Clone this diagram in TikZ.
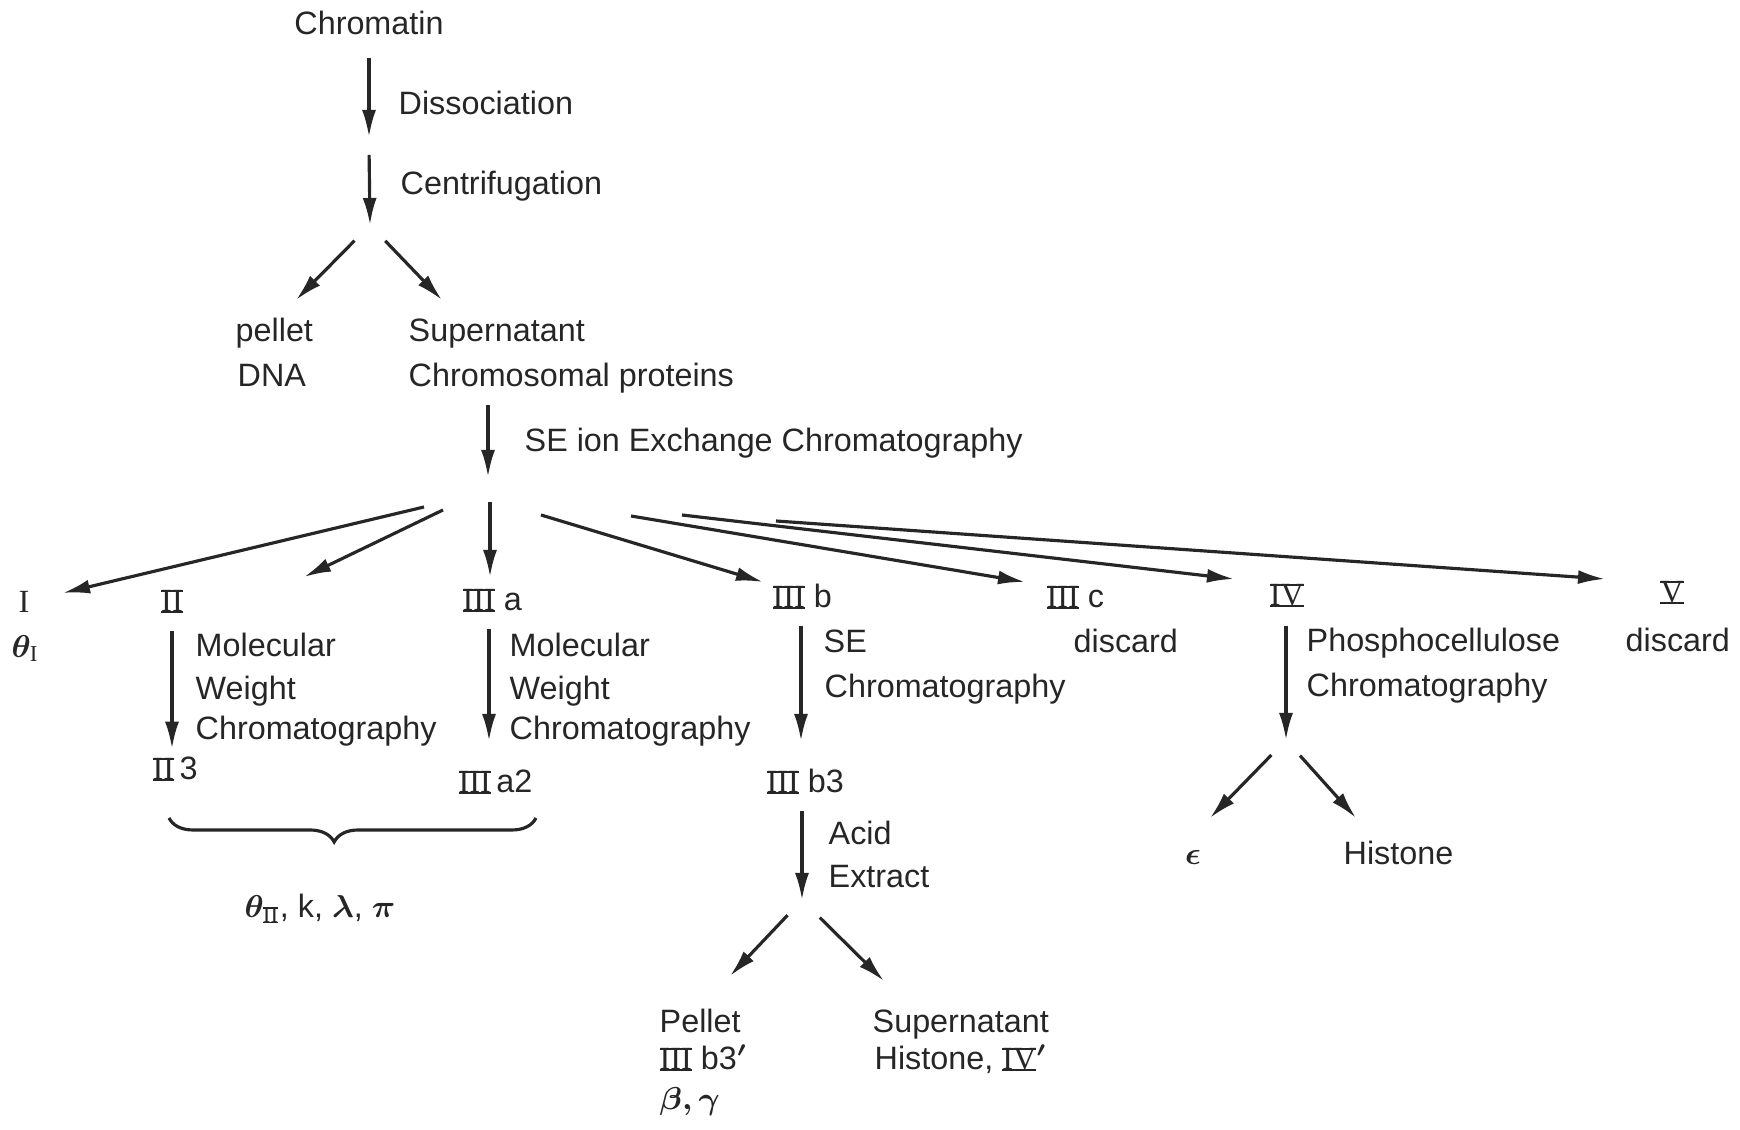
\documentclass[tikz,border=0pt]{standalone}
\usepackage{fontspec}
\setmainfont{Liberation Sans}
\newfontfamily\numfont{Liberation Serif}
\usetikzlibrary{arrows.meta,decorations.pathreplacing}

% barred roman numeral
\newcommand{\rnum}[1]{{\setbox0=\hbox{\numfont #1}%
  \rlap{\rule[-0.25pt]{\wd0}{0.55pt}}%
  \rlap{\rule[\dimexpr\ht0-0.3pt\relax]{\wd0}{0.55pt}}\box0}}
\newcommand{\subnum}[1]{\hbox{\fontsize{6.5}{7}\selectfont #1}}

\tikzset{
  arr/.style={draw=black!85, line width=0.9pt, -{Latex[length=2.7mm,width=1.4mm]}},
  lbl/.style={inner sep=0pt, anchor=base west, text=black!85},
  num/.style={inner sep=0pt, anchor=base, text=black!85},
}

\begin{document}
\begin{tikzpicture}[font=\fontsize{9.2}{11}\selectfont\boldmath]
\useasboundingbox (0,0) rectangle (17.4,-11.3);

% chromatin -> supernatant
\node[num] (chromatin) at (3.69,-0.35) {Chromatin};
\coordinate (j1) at (3.69,-1.46);
\coordinate (jT) at (3.70,-2.25);
\draw[arr, shorten <=2.2mm, shorten >=0.9mm] (chromatin.south) -- (j1);
\draw[arr, shorten <=0.9mm] (j1) -- (jT);
\node[lbl] (dissoc) at (3.98,-1.15) {Dissociation};
\node[lbl] (centri) at (4.00,-1.95) {Centrifugation};

\coordinate (hP) at (2.96,-3.00);
\coordinate (hS) at (4.42,-3.00);
\draw[arr, shorten <=2.2mm] (jT) -- (hP);
\draw[arr, shorten <=2.2mm] (jT) -- (hS);

\node[lbl] (pellet) at (2.35,-3.42) {pellet};
\node[lbl] (dna) at (2.37,-3.87) {DNA};
\node[lbl] (super) at (4.08,-3.42) {Supernatant};
\node[lbl] (chprot) at (4.08,-3.87) {Chromosomal proteins};

% SE ion exchange
\coordinate (jS) at (4.88,-4.77);
\draw[arr, shorten <=1.1mm] (chprot.south -| jS) -- (jS);
\node[lbl] (seiec) at (5.24,-4.52) {SE ion Exchange Chromatography};

% fractions
\coordinate (fI) at (4.24,-5.07);    \coordinate (hI) at (0.63,-5.93);
\coordinate (fII) at (4.43,-5.10);   \coordinate (hII) at (3.04,-5.77);
\coordinate (fIIIa) at (4.90,-5.02); \coordinate (hIIIa) at (4.90,-5.77);
\coordinate (fIIIb) at (5.41,-5.15); \coordinate (hIIIb) at (7.63,-5.82);
\coordinate (fIIIc) at (6.31,-5.16); \coordinate (hIIIc) at (10.25,-5.82);
\coordinate (fIV) at (6.82,-5.15);   \coordinate (hIV) at (12.34,-5.79);
\coordinate (fV) at (7.76,-5.21);    \coordinate (hV) at (16.05,-5.79);
\draw[arr] (fI) -- (hI);
\draw[arr] (fII) -- (hII);
\draw[arr] (fIIIa) -- (hIIIa);
\draw[arr] (fIIIb) -- (hIIIb);
\draw[arr] (fIIIc) -- (hIIIc);
\draw[arr] (fIV) -- (hIV);
\draw[arr] (fV) -- (hV);

\node[num] (nI) at (0.24,-6.13) {\numfont I};
\node[lbl] (thI) at (0.11,-6.58) {$\theta_{\subnum{\numfont I}}$};
\node[num] (nII) at (1.72,-6.12) {\rnum{II}};
\node[lbl] (nIIIa) at (4.62,-6.11) {\rnum{III} a};
\node[lbl] (nIIIb) at (7.72,-6.08) {\rnum{III} b};
\node[lbl] (nIIIc) at (10.46,-6.08) {\rnum{III} c};
\node[num] (nIV) at (12.87,-6.06) {\rnum{IV}};
\node[num] (nV) at (16.72,-6.03) {\rnum{V}};

% II and IIIa: molecular weight chromatography
\node[lbl] (mwA1) at (1.95,-6.57) {Molecular};
\node[lbl] (mwA2) at (1.95,-7.00) {Weight};
\node[lbl] (mwA3) at (1.95,-7.40) {Chromatography};
\node[lbl] (nII3) at (1.52,-7.80) {\rnum{II}\,3};
\draw[arr, shorten <=1.7mm, shorten >=0.8mm] (nII.south) -- (nII.south |- nII3.north);

\node[lbl] (mwB1) at (5.09,-6.57) {Molecular};
\node[lbl] (mwB2) at (5.09,-7.00) {Weight};
\node[lbl] (mwB3) at (5.09,-7.40) {Chromatography};
\node[lbl] (nIIIa2) at (4.58,-7.93) {\rnum{III}\,a2};
\coordinate (dIIIa) at (4.89,-7.41);
\draw[arr, shorten <=1.6mm] (nIIIa.south -| dIIIa) -- (dIIIa);

\draw[line width=0.9pt, draw=black!85, decorate,
  decoration={brace, mirror, amplitude=2.4mm, aspect=0.45}] (1.69,-8.18) -- (5.36,-8.18);
\node[num] (thII) at (3.20,-9.18) {$\theta_{\subnum{\rnum{II}}}$, k, $\lambda$, $\pi$};

% IIIb: SE chromatography, acid extract
\node[lbl] (seA) at (8.23,-6.53) {SE};
\node[lbl] (seB) at (8.24,-6.98) {Chromatography};
\coordinate (dIIIb) at (8.01,-7.41);
\draw[arr, shorten <=1.6mm] (nIIIb.south -| dIIIb) -- (dIIIb);
\node[lbl] (nIIIb3) at (7.66,-7.93) {\rnum{III} b3};

\coordinate (jB) at (8.02,-9.00);
\draw[arr, shorten <=1.6mm] (nIIIb3.south -| jB) -- (jB);
\node[lbl] (acA) at (8.28,-8.45) {Acid};
\node[lbl] (acB) at (8.28,-8.88) {Extract};
\coordinate (hBP) at (7.30,-9.76);
\coordinate (hBS) at (8.84,-9.81);
\draw[arr, shorten <=2.1mm] (jB) -- (hBP);
\draw[arr, shorten <=2.5mm] (jB) -- (hBS);

\node[lbl] (bpel) at (6.59,-10.33) {Pellet};
\node[lbl] (bIIIb) at (6.59,-10.70) {\rnum{III} b3$'$};
\node[lbl] (bbg) at (6.59,-11.10) {$\beta,\gamma$};
\node[lbl] (bsup) at (8.72,-10.33) {Supernatant};
\node[lbl] (bhis) at (8.74,-10.70) {Histone, \rnum{IV}$'$};

% IIIc and V: discard
\node[lbl] (disA) at (10.73,-6.53) {discard};
\node[lbl] (disB) at (16.25,-6.52) {discard};

% IV: phosphocellulose
\node[lbl] (phA) at (13.06,-6.52) {Phosphocellulose};
\node[lbl] (phB) at (13.06,-6.97) {Chromatography};
\coordinate (jIV) at (12.86,-7.40);
\draw[arr, shorten <=1.8mm] (nIV.south -| jIV) -- (jIV);
\coordinate (hEps) at (12.10,-8.18);
\coordinate (hHis) at (13.56,-8.18);
\draw[arr, shorten <=2.1mm] (jIV) -- (hEps);
\draw[arr, shorten <=2.1mm] (jIV) -- (hHis);
\node[num] (eps) at (11.93,-8.65) {$\epsilon$};
\node[lbl] (his) at (13.43,-8.65) {Histone};
\end{tikzpicture}
\end{document}
